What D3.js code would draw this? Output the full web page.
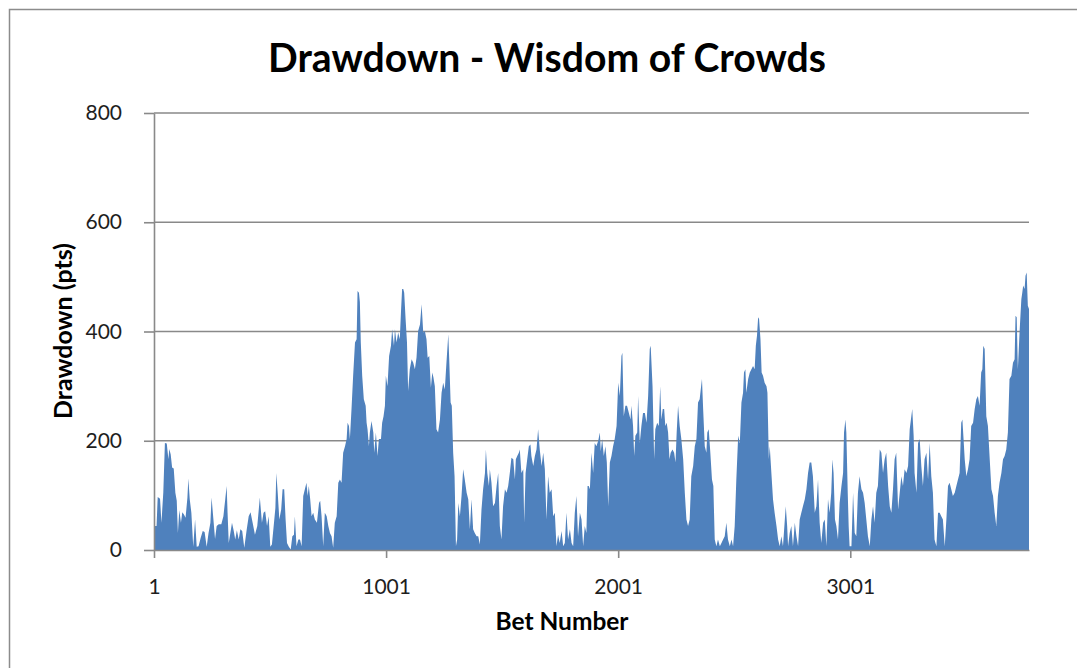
<!DOCTYPE html>
<html>
<head>
<meta charset="utf-8">
<script src="https://cdn.jsdelivr.net/npm/d3@7"></script>
<style>
  html, body { margin: 0; padding: 0; background: #ffffff; }
  svg { display: block; }
</style>
</head>
<body>
<svg id="chart" width="1077" height="668"></svg>
<script>
// Drawdown (pts) per bet, sampled along the run of bets.
const betNumber = [
  1, 4, 12, 17, 27, 33, 41, 48, 56, 63, 67, 73, 79, 86, 93, 99, 104, 110, 117, 123, 130, 137, 145, 149, 155, 162, 170, 178, 185, 193,
  202, 211, 219, 228, 236, 244, 249, 257, 264, 271, 280, 291, 300, 308, 314, 318, 323, 330, 337, 344, 351, 358, 366, 373, 381, 390,
  400, 409, 417, 426, 436, 446, 457, 466, 473, 480, 488, 495, 502, 509, 518, 524, 528, 534, 541, 549, 555, 562, 568, 574, 582, 590,
  597, 604,
  608, 615, 623, 630, 637, 644, 651, 658, 663, 668, 674, 680, 687, 694, 703, 712, 717, 723, 730, 737, 745, 752, 759, 766, 773, 780,
  788, 795, 802, 809, 816, 824, 831, 835, 841, 845, 852, 859, 867, 874, 878, 884, 888, 892, 898, 905, 913, 917, 921, 927, 931, 938,
  946, 950, 957, 964, 970, 979, 984, 990, 996, 1000, 1007, 1014, 1022, 1027, 1035, 1039, 1046, 1053, 1060, 1065, 1070, 1075, 1079,
  1085, 1091, 1096, 1103, 1111, 1118, 1125, 1132, 1139, 1147, 1154, 1161, 1168, 1175, 1180, 1187, 1194, 1200, 1205, 1211, 1218, 1225,
  1233, 1240, 1247, 1254, 1261, 1269, 1273, 1279, 1284, 1290, 1296, 1302, 1307, 1312, 1319, 1326, 1333, 1340, 1348, 1355, 1362, 1369,
  1376, 1383, 1391, 1398, 1405, 1412, 1419, 1427, 1431, 1437, 1444, 1448, 1455, 1462, 1470, 1477, 1484, 1491, 1498, 1505, 1513, 1520,
  1527, 1534, 1541, 1549, 1556, 1560, 1566, 1573, 1577, 1584, 1592, 1596, 1602, 1609, 1616, 1623, 1627, 1635, 1642, 1649, 1656, 1663,
  1671, 1678, 1685, 1692, 1699, 1706, 1714, 1721, 1728, 1735, 1742, 1749, 1757, 1764, 1771, 1778, 1785, 1793, 1800, 1807, 1814, 1821,
  1828, 1836, 1843, 1850,
  1857, 1864, 1869, 1874, 1879, 1886, 1893, 1900, 1907, 1915, 1922, 1926, 1932, 1939, 1946, 1952, 1958, 1965, 1972, 1979, 1986, 1994,
  2001, 2008, 2015, 2019, 2025, 2032, 2039, 2047, 2054, 2058, 2065, 2070, 2075, 2083, 2087, 2094, 2101, 2108, 2116, 2123, 2130, 2137,
  2141, 2149, 2156, 2161, 2169, 2176, 2182, 2187, 2193, 2199, 2204, 2210, 2216, 2222, 2227, 2235, 2242, 2248, 2253, 2259, 2266, 2273,
  2281, 2288, 2295, 2302, 2309, 2316, 2324, 2331, 2338, 2345, 2352, 2360, 2362, 2367, 2374, 2381, 2385, 2391, 2398, 2405, 2411, 2417,
  2424, 2431, 2439, 2446, 2453, 2460, 2467, 2474,
  2482, 2489, 2496, 2503, 2510, 2518, 2525, 2532, 2539, 2543, 2549, 2553, 2561, 2568, 2575, 2582, 2589, 2594, 2599, 2604, 2608, 2614,
  2619, 2625, 2632, 2640, 2644, 2650, 2654, 2661, 2668, 2675, 2683, 2690, 2697, 2704, 2711, 2718, 2723, 2729, 2733, 2740, 2747, 2754,
  2762, 2769, 2776, 2783, 2790, 2797, 2805, 2812, 2819, 2826, 2833, 2840, 2848, 2855, 2862, 2869, 2876, 2884, 2891, 2898, 2905, 2912,
  2919, 2924, 2929, 2935, 2941, 2948, 2955, 2963, 2970, 2974, 2980, 2984, 2990, 2994, 2998, 3006, 3013, 3020, 3027, 3034, 3041, 3049,
  3056, 3063, 3070, 3077, 3085, 3092, 3099,
  3106, 3113, 3120, 3128, 3135, 3142, 3149, 3156, 3164, 3171, 3178, 3185, 3192, 3199, 3207, 3214, 3221, 3228, 3235, 3243, 3250, 3257,
  3264, 3268, 3274, 3278, 3286, 3293, 3300, 3307, 3314, 3321, 3329, 3336, 3343, 3350, 3357, 3364, 3372, 3379, 3386, 3393, 3400, 3408,
  3415, 3422, 3429, 3436, 3443, 3451, 3458, 3465, 3472, 3479, 3484, 3489, 3494, 3501, 3508, 3515, 3522, 3530, 3537, 3544, 3551, 3558,
  3565, 3570, 3574, 3580, 3587, 3594, 3601, 3609, 3616, 3623, 3630, 3637, 3644, 3652, 3659, 3666, 3673, 3680, 3687, 3695, 3702, 3709,
  3713, 3718, 3723, 3731, 3738, 3742, 3746, 3752, 3756, 3761, 3766, 3771
];

const drawdownPts = [
  40, 44, 44, 97, 94, 50, 105, 196, 195, 166, 185, 175, 151, 149, 105, 90, 31, 73, 50, 69, 65, 59, 96, 131, 93, 68, 6, 56, 6, 7,
  22, 35, 33, 6, 31, 50, 96, 56, 20, 44, 47, 47, 62, 93, 117, 68, 13, 31, 50, 36, 19, 36, 19, 38, 35, 4,
  36, 62, 69, 50, 28, 44, 96, 50, 68, 71, 44, 62, 6, 10, 50, 77, 141, 105, 56, 74, 111, 111, 56, 13, 6, 1,
  25, 28,
  62, 7, 19, 19, 7, 99, 111, 123, 99, 117, 93, 62, 68, 56, 50, 86, 90, 62, 7, 68, 62, 44, 31, 25, 4, 50,
  62, 123, 129, 123, 178, 190, 203, 233, 227, 203, 258, 319, 380, 386, 474, 471, 454, 380, 319, 276, 264, 233, 221, 190, 215, 236,
  215, 178, 215, 172, 203, 203, 233, 245, 264, 319, 300, 355, 374, 404, 374, 404, 380, 398, 386, 435, 478, 478, 471,
  423, 380, 291, 331, 349, 343, 331, 352, 401, 413, 450, 398, 401, 386, 352, 355, 297, 325, 316, 300, 221, 215,
  239, 288, 306, 294, 343, 395, 349, 270, 264, 178, 135, 7, 19, 86, 62, 99, 148, 129, 105, 93, 38, 93,
  38, 31, 25, 25, 10, 74, 111, 141, 184, 141, 117, 148, 123, 80, 86, 117, 141, 44, 19, 80, 111, 105,
  117, 141, 169, 166, 129, 166, 172, 178, 184, 141, 148, 50, 141, 166, 190, 193, 172, 154, 172, 184, 221, 184,
  154, 178, 148, 56, 135, 105, 111, 62, 68, 7, 28, 13, 35, 7, 13, 68, 19, 38, 13, 7, 68, 99,
  25, 68, 56, 7,
  44, 31, 117, 117, 111, 178, 141, 196, 190, 200, 215, 181, 203, 172, 190, 160, 80, 160, 172, 190, 203, 227,
  306, 282, 355, 361, 245, 264, 264, 251, 239, 264, 227, 172, 209, 215, 282, 196, 227, 251, 251, 233, 282, 368,
  374, 300, 166, 221, 233, 227, 300, 239, 258, 258, 227, 233, 215, 166, 178, 184, 178, 160, 215, 264, 227, 203,
  166, 105, 56, 44, 56, 135, 154, 190, 203, 270, 276, 306, 313, 258, 190, 178, 215, 221, 178, 129, 117, 19,
  7, 19, 7, 13, 19, 25, 50, 19,
  7, 19, 7, 44, 129, 209, 196, 270, 288, 325, 331, 288, 313, 325, 331, 337, 331, 374, 392, 426, 423, 386,
  325, 319, 306, 300, 288, 166, 190, 141, 93, 68, 44, 19, 7, 25, 7, 50, 80, 44, 7, 31, 44, 7,
  50, 25, 7, 56, 68, 80, 93, 111, 141, 160, 160, 135, 68, 80, 129, 50, 13, 50, 56, 7, 93, 68,
  105, 166, 141, 56, 44, 19, 86, 117, 141, 215, 239, 215, 105, 44, 7, 7, 105, 31, 25, 105, 135, 111,
  105, 86, 56, 25, 7, 56, 80,
  50, 105, 117, 184, 178, 141, 166, 178, 117, 80, 68, 111, 166, 178, 74, 105, 135, 117, 148, 141, 154, 221,
  245, 258, 209, 141, 105, 196, 203, 154, 117, 166, 178, 129, 196, 135, 105, 19, 7, 68, 68, 62, 56, 7,
  56, 117, 123, 111, 99, 105, 117, 129, 141, 233, 239, 203, 166, 135, 148, 166, 227, 233, 258, 276, 282, 264,
  325, 331, 374, 368, 245, 227, 172, 111, 99, 68, 44, 99, 123, 141, 166, 172, 184, 215, 313, 319, 343, 349,
  429, 426, 331, 404, 459, 471, 484, 478, 502, 508, 447, 441
];

const yTickValues = [0, 200, 400, 600, 800];
const xTickBets = [1, 1001, 2001, 3001];

const chartTitle = "Drawdown - Wisdom of Crowds";
const xAxisTitle = "Bet Number";
const yAxisTitle = "Drawdown (pts)";

const series = betNumber.map((b, i) => ({ bet: b, pts: drawdownPts[i] }));

const svg = d3.select("#chart");
const plot = { left: 154, right: 1029, top: 113, bottom: 550 };

const x = d3.scaleLinear().domain([1, 3771]).range([plot.left, plot.right]);
const y = d3.scaleLinear().domain([0, 800]).range([plot.bottom, plot.top]);

const gridColor = "#898989";
const fontFamily = "Lato, 'Open Sans', 'DejaVu Sans', sans-serif";

// Outer chart frame (runs off the right and bottom edges).
svg.append("rect")
  .attr("x", 9.5).attr("y", 9.5)
  .attr("width", 1200).attr("height", 800)
  .attr("fill", "#ffffff")
  .attr("stroke", "#8c8c8c")
  .attr("stroke-width", 1.5);

// Horizontal gridlines
svg.append("g")
  .selectAll("line")
  .data(yTickValues.filter(v => v > 0))
  .join("line")
  .attr("x1", plot.left).attr("x2", plot.right)
  .attr("y1", d => y(d)).attr("y2", d => y(d))
  .attr("stroke", gridColor)
  .attr("stroke-width", 1.6);

// Drawdown area
const area = d3.area()
  .x(d => x(d.bet))
  .y0(y(0))
  .y1(d => y(d.pts))
  .curve(d3.curveLinear);

svg.append("path")
  .datum(series)
  .attr("d", area)
  .attr("fill", "#4f81bd");

// Y axis
const yAxis = d3.axisLeft(y)
  .tickValues(yTickValues)
  .tickSize(10)
  .tickSizeOuter(0)
  .tickPadding(22)
  .tickFormat(d3.format("d"));

const gy = svg.append("g")
  .attr("transform", `translate(${plot.left},0)`)
  .call(yAxis);

// X axis
const xAxis = d3.axisBottom(x)
  .tickValues(xTickBets)
  .tickSize(8)
  .tickSizeOuter(0)
  .tickPadding(24)
  .tickFormat(d3.format("d"));

const gx = svg.append("g")
  .attr("transform", `translate(0,${plot.bottom})`)
  .call(xAxis);

[gx, gy].forEach(g => {
  g.select(".domain").attr("stroke", gridColor).attr("stroke-width", 1.6);
  g.selectAll(".tick line").attr("stroke", gridColor).attr("stroke-width", 1.6);
  g.selectAll(".tick text")
    .attr("fill", "#1e1e1e")
    .style("font-family", fontFamily)
    .style("font-size", "21px");
});
gx.selectAll(".tick text").attr("dy", "0.55em");

// Fit a text element to a given width by adjusting its font size.
function fitText(sel, width) {
  const len = sel.node().getComputedTextLength();
  const size = parseFloat(sel.style("font-size"));
  sel.style("font-size", (size * width / len).toFixed(2) + "px");
}

// Title
const title = svg.append("text")
  .attr("x", 547).attr("y", 56)
  .attr("text-anchor", "middle")
  .attr("dominant-baseline", "central")
  .style("font-family", fontFamily)
  .style("font-weight", "bold")
  .style("font-size", "32px")
  .attr("fill", "#000000")
  .text(chartTitle);
fitText(title, 558);

// Axis titles
const xt = svg.append("text")
  .attr("x", 562).attr("y", 620)
  .attr("text-anchor", "middle")
  .attr("dominant-baseline", "central")
  .style("font-family", fontFamily)
  .style("font-weight", "bold")
  .style("font-size", "19px")
  .attr("fill", "#000000")
  .text(xAxisTitle);
fitText(xt, 133);

const yt = svg.append("text")
  .attr("transform", "translate(62,331) rotate(-90)")
  .attr("text-anchor", "middle")
  .attr("dominant-baseline", "central")
  .style("font-family", fontFamily)
  .style("font-weight", "bold")
  .style("font-size", "19px")
  .attr("fill", "#000000")
  .text(yAxisTitle);
fitText(yt, 176);
</script>
</body>
</html>
